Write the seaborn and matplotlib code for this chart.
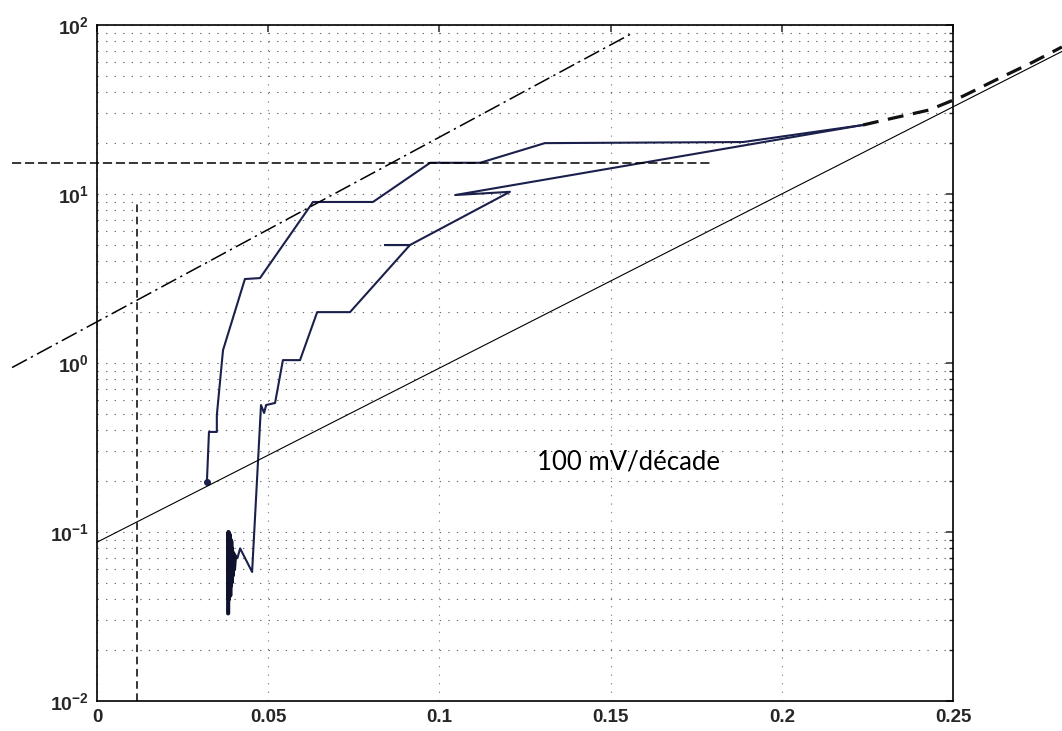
import matplotlib
matplotlib.use("Agg")
import matplotlib.pyplot as plt
from matplotlib.ticker import FixedLocator, LogLocator, NullFormatter
import pandas as pd
import seaborn as sns

# Polarisation curve: potential (V) vs current (log scale)
# left branch (forward scan)
left_x = [0.0321, 0.0327, 0.0350, 0.0350, 0.0368, 0.0432, 0.0476, 0.0631,
          0.0806, 0.0973, 0.1119, 0.1308, 0.1887, 0.2237]
left_y = [0.198, 0.391, 0.391, 0.492, 1.19, 3.14, 3.18, 8.97,
          8.97, 15.3, 15.3, 20.0, 20.3, 25.6]

# right branch, starting with the noisy part near 0.04 V
noise_x = [0.0383, 0.0384, 0.0385, 0.0386, 0.0387, 0.0388, 0.0389, 0.0390,
           0.0391, 0.0392, 0.0393, 0.0394, 0.0396, 0.0398, 0.0400, 0.0403]
noise_y = [0.033, 0.100, 0.040, 0.098, 0.045, 0.095, 0.042, 0.090,
           0.048, 0.088, 0.050, 0.080, 0.055, 0.075, 0.060, 0.072]
right_x = [0.0403, 0.0410, 0.0418, 0.0453, 0.0479, 0.0488, 0.0494, 0.0520,
           0.0543, 0.0593, 0.0643, 0.0739, 0.0914, 0.0841, 0.0914, 0.1206,
           0.1046, 0.2237]
right_y = [0.072, 0.070, 0.080, 0.058, 0.564, 0.506, 0.564, 0.58,
           1.04, 1.04, 2.0, 2.0, 4.99, 4.99, 4.99, 10.3,
           9.86, 25.6]

# thick dashed extrapolation past the end of the curve
extrap_x = [0.2237, 0.2300, 0.2430, 0.2530, 0.2637, 0.2734, 0.2818]
extrap_y = [25.6, 27.4, 31.4, 38.0, 48.6, 60.4, 74.1]

# thin 100 mV/decade reference line
tafel_x = [0.0, 0.2818]
tafel_y = [0.087, 69.7]

# dash-dot reference line
dashdot_x = [-0.0248, 0.156]
dashdot_y = [0.94, 88.7]

# horizontal dashed level and vertical dashed potential
level_x = [-0.0248, 0.180]
level_y = [15.3, 15.3]
vert_x = [0.0117, 0.0117]
vert_y = [0.01, 8.8]

x_ticks = [0, 0.05, 0.1, 0.15, 0.2, 0.25]
x_labels = ["0", "0.05", "0.1", "0.15", "0.2", "0.25"]
y_ticks = [1e-2, 1e-1, 1e0, 1e1, 1e2]
y_labels = [r"$\mathbf{10^{-2}}$", r"$\mathbf{10^{-1}}$", r"$\mathbf{10^{0}}$",
            r"$\mathbf{10^{1}}$", r"$\mathbf{10^{2}}$"]

sns.set_style("white")
plt.rcParams["font.family"] = ["Liberation Sans", "DejaVu Sans"]
plt.rcParams["mathtext.fontset"] = "custom"
plt.rcParams["mathtext.bf"] = "Liberation Sans:bold"
plt.rcParams["mathtext.rm"] = "Liberation Sans:bold"

fig = plt.figure(figsize=(10.62, 7.31), dpi=100)
ax = fig.add_axes([97 / 1062, 1 - 701 / 731, (953 - 97) / 1062, (701 - 25) / 731])

curve_col = "#1b1f4b"

# curve branches
sns.lineplot(data=pd.DataFrame({"E": left_x, "i": left_y}), x="E", y="i",
             sort=False, estimator=None, color=curve_col, lw=1.5, ax=ax)
sns.lineplot(data=pd.DataFrame({"E": right_x, "i": right_y}), x="E", y="i",
             sort=False, estimator=None, color=curve_col, lw=1.5, ax=ax)
# the noisy bit is a dark smudge on the scan
sns.lineplot(x=noise_x, y=noise_y, sort=False, estimator=None, color="#10122e",
             lw=3.0, ax=ax)
ax.plot(left_x[0], left_y[0], "o", color=curve_col, ms=4)

# reference lines (some run outside the box like on the scan)
sns.lineplot(x=extrap_x, y=extrap_y, sort=False, estimator=None, color="#111111",
             lw=2.3, linestyle=(0, (5, 3)), clip_on=False, ax=ax)
sns.lineplot(x=tafel_x, y=tafel_y, sort=False, estimator=None, color="black",
             lw=0.8, clip_on=False, ax=ax)
sns.lineplot(x=dashdot_x, y=dashdot_y, sort=False, estimator=None, color="black",
             lw=1.1, linestyle=(0, (11, 3, 1.5, 3)), clip_on=False, ax=ax)
sns.lineplot(x=level_x, y=level_y, sort=False, estimator=None, color="black",
             lw=1.1, linestyle=(0, (6, 2.5)), clip_on=False, ax=ax)
sns.lineplot(x=vert_x, y=vert_y, sort=False, estimator=None, color="black",
             lw=1.1, linestyle=(0, (5, 3)), clip_on=False, ax=ax)

ax.text(0.1285, 0.26, "100 mV/décade", fontsize=18.5, family=["Lato", "DejaVu Sans"],
        ha="left", va="center", color="black")

# axes, MATLAB-like box with inward ticks and dotted grid
ax.set_yscale("log")
ax.set_xlim(0, 0.25)
ax.set_ylim(1e-2, 1e2)
ax.xaxis.set_major_locator(FixedLocator(x_ticks))
ax.set_xticklabels(x_labels, fontsize=13.5, fontweight="bold")
ax.yaxis.set_major_locator(FixedLocator(y_ticks))
ax.set_yticklabels(y_labels, fontsize=14)
ax.yaxis.set_minor_locator(LogLocator(base=10, subs=range(2, 10)))
ax.yaxis.set_minor_formatter(NullFormatter())
ax.tick_params(which="major", direction="in", length=5, width=1.1,
               top=True, right=True, pad=6)
ax.tick_params(which="minor", direction="in", length=3, width=1.0,
               top=False, right=True)
ax.grid(True, axis="y", which="both", color="#666666", lw=0.8, linestyle=(0, (1.2, 6.5)))
ax.grid(True, axis="x", which="major", color="#888888", lw=0.8, linestyle=(0, (1.2, 6.5)))
for sp in ax.spines.values():
    sp.set_linewidth(1.2)
    sp.set_color("black")
ax.set_xlabel("")
ax.set_ylabel("")

fig.savefig("out.png", dpi=100)
